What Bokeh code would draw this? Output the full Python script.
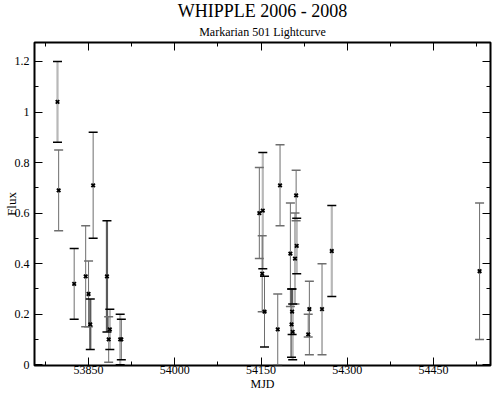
from bokeh.plotting import figure
from bokeh.models import (Range1d, LinearAxis, FixedTicker, CustomJSTickFormatter,
                          Title, ColumnDataSource)
from bokeh.embed import file_html
from bokeh.resources import INLINE

# ---------------- data ----------------
mjd = [53796, 53798, 53825, 53845, 53850, 53853, 53858, 53882, 53885, 53887,
       53905, 53907, 54147, 54153, 54152, 54156, 54179, 54183, 54201, 54203,
       54204, 54205, 54209, 54211, 54212, 54232, 54234, 54256, 54273, 54530]
flux = [1.04, 0.69, 0.32, 0.35, 0.28, 0.16, 0.71, 0.35, 0.10, 0.14,
        0.10, 0.10, 0.60, 0.61, 0.36, 0.21, 0.14, 0.71, 0.44, 0.16,
        0.21, 0.13, 0.42, 0.67, 0.47, 0.12, 0.22, 0.22, 0.45, 0.37]
flux_lo = [0.88, 0.53, 0.18, 0.15, 0.15, 0.06, 0.50, 0.13, 0.01, 0.06,
           0.00, 0.02, 0.42, 0.38, 0.21, 0.07, 0.00, 0.55, 0.23, 0.03,
           0.12, 0.02, 0.24, 0.57, 0.36, 0.11, 0.04, 0.04, 0.27, 0.10]
flux_hi = [1.20, 0.85, 0.46, 0.55, 0.41, 0.26, 0.92, 0.57, 0.19, 0.22,
           0.20, 0.18, 0.78, 0.84, 0.51, 0.35, 0.28, 0.87, 0.64, 0.30,
           0.30, 0.24, 0.60, 0.77, 0.58, 0.20, 0.33, 0.40, 0.63, 0.64]

x_ticks = [53850, 54000, 54150, 54300, 54450]
x_minor = [53775, 53925, 54075, 54225, 54375, 54525]
y_ticks = [0, 0.2, 0.4, 0.6, 0.8, 1.0, 1.2]
y_minor = [0.1, 0.3, 0.5, 0.7, 0.9, 1.1]

title_text = "WHIPPLE 2006 - 2008"
subtitle_text = "Markarian 501 Lightcurve"
x_label = "MJD"
y_label = "Flux"

# ---------------- styles (one entry per point) ----------------
# L: light bar / black caps, D: dark thin bar / gray caps,
# K: dark thin bar / black caps, B: dark thick bar / black caps
style = ["L", "D", "K", "D", "D", "B", "K", "B", "D", "L",
         "L", "K", "D", "L", "D", "K", "D", "D", "D", "B",
         "B", "L", "D", "D", "L", "D", "D", "D", "L", "D"]
bar_col = {"L": "#b8b8b8", "D": "#6e6e6e", "K": "#6e6e6e", "B": "#5a5a5a"}
bar_w = {"L": 2.2, "D": 1.0, "K": 1.0, "B": 2.2}
cap_col = {"L": "#000000", "D": "#6e6e6e", "K": "#000000", "B": "#000000"}

src = ColumnDataSource(dict(
    x=mjd, y=flux, lo=flux_lo, hi=flux_hi,
    bc=[bar_col[s] for s in style],
    bw=[bar_w[s] for s in style],
    cc=[cap_col[s] for s in style],
))

FONT = "'Liberation Serif', serif"

# frame at canvas x 34..490, y 42..366
p = figure(width=497, height=393, output_backend="svg", toolbar_location=None,
           title=None,
           x_range=Range1d(53756, 54549), y_range=Range1d(-0.003, 1.275),
           x_axis_location=None, y_axis_location=None,
           min_border_left=34, min_border_right=7, min_border_top=42, min_border_bottom=27,
           background_fill_color="white", border_fill_color="white")
p.xgrid.visible = False
p.ygrid.visible = False
p.outline_line_color = "black"
p.outline_line_width = 2

# error bars
p.segment(x0="x", y0="lo", x1="x", y1="hi", line_color="bc", line_width="bw", source=src)
p.scatter(x="x", y="lo", marker="dash", size=9, line_color="cc", line_width=1.5, source=src)
p.scatter(x="x", y="hi", marker="dash", size=9, line_color="cc", line_width=1.5, source=src)
# points
p.scatter(x="x", y="y", marker="x", size=5, line_color="black", line_width=1.8, source=src)

yfmt = CustomJSTickFormatter(code="return (Math.round(tick*10)/10).toString();")
blank = CustomJSTickFormatter(code="return '';")


def style_axis(ax, font_size="12px"):
    ax.major_tick_in = 8
    ax.major_tick_out = 0
    ax.minor_tick_in = 4
    ax.minor_tick_out = 0
    ax.major_tick_line_color = "black"
    ax.minor_tick_line_color = "black"
    ax.axis_line_color = None
    ax.major_label_text_font = FONT
    ax.major_label_text_font_size = font_size
    ax.major_label_text_color = "black"
    ax.axis_label_text_font = FONT
    ax.axis_label_text_font_style = "normal"
    ax.axis_label_text_color = "black"


xb = LinearAxis(ticker=FixedTicker(ticks=x_ticks, minor_ticks=x_minor), axis_label=x_label)
style_axis(xb)
xb.major_label_standoff = 0
xb.axis_label_standoff = 0
xb.axis_label_text_font_size = "12px"
p.add_layout(xb, "below")

xt = LinearAxis(ticker=FixedTicker(ticks=x_ticks, minor_ticks=x_minor), formatter=blank)
style_axis(xt, "1px")
xt.major_label_standoff = 0
p.add_layout(xt, "above")

yl = LinearAxis(ticker=FixedTicker(ticks=y_ticks, minor_ticks=y_minor), formatter=yfmt,
                axis_label=y_label)
style_axis(yl)
yl.major_label_standoff = 5
yl.axis_label_standoff = -7
yl.axis_label_text_font_size = "13px"
p.add_layout(yl, "left")

yr = LinearAxis(ticker=FixedTicker(ticks=y_ticks, minor_ticks=y_minor), formatter=blank)
style_axis(yr, "1px")
yr.major_label_standoff = 0
p.add_layout(yr, "right")

p.add_layout(Title(text=subtitle_text, align="center", text_font=FONT,
                   text_font_size="12px", text_font_style="normal", standoff=7,
                   text_color="black"), "above")
p.add_layout(Title(text=title_text, align="center", text_font=FONT,
                   text_font_size="18px", text_font_style="normal", standoff=-3,
                   text_color="black"), "above")

open("out.html", "w").write(file_html(p, INLINE))
